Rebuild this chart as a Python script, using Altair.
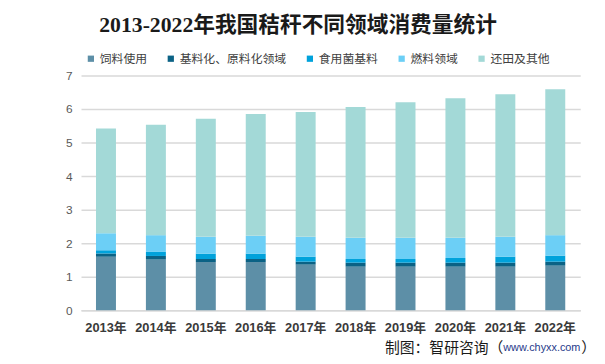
import altair as alt
import pandas as pd

years = ["2013年", "2014年", "2015年", "2016年", "2017年", "2018年", "2019年", "2020年", "2021年", "2022年"]
categories = ["饲料使用", "基料化、原料化领域", "食用菌基料", "燃料领域", "还田及其他"]
colors = ["#5D8FA7", "#0B6285", "#00A2DB", "#6CCFF6", "#A3D9D7"]

feed = [1.60, 1.51, 1.44, 1.44, 1.36, 1.30, 1.30, 1.30, 1.30, 1.33]
material = [0.09, 0.11, 0.09, 0.09, 0.09, 0.12, 0.12, 0.12, 0.12, 0.12]
fungus = [0.10, 0.12, 0.16, 0.16, 0.15, 0.11, 0.11, 0.14, 0.18, 0.18]
fuel = [0.51, 0.50, 0.50, 0.53, 0.59, 0.63, 0.63, 0.60, 0.59, 0.61]
other = [3.12, 3.29, 3.52, 3.63, 3.72, 3.90, 4.04, 4.16, 4.25, 4.35]

series = [feed, material, fungus, fuel, other]
rows = []
for ci, (cat, vals) in enumerate(zip(categories, series)):
    for y, v in zip(years, vals):
        rows.append({"year": y, "cat": cat, "value": v, "idx": ci})
df = pd.DataFrame(rows)

sans = "Noto Sans CJK SC"
axis_font = "Liberation Sans, Noto Sans CJK SC"

bars = alt.Chart(df).mark_bar().encode(
    x=alt.X("year:N", sort=years, title=None,
            scale=alt.Scale(paddingInner=0.6, paddingOuter=0.3),
            axis=alt.Axis(labelAngle=0, ticks=False, domain=True, domainColor="#D9D9D9",
                          domainWidth=1.5, labelFont=axis_font, labelFontSize=13,
                          labelFontWeight="bold", labelColor="#3A3A3A", labelPadding=12)),
    y=alt.Y("value:Q", stack="zero", title=None,
            scale=alt.Scale(domain=[0, 7], nice=False),
            axis=alt.Axis(values=[0, 1, 2, 3, 4, 5, 6, 7], ticks=False, domain=False,
                          gridColor="#D9D9D9", gridWidth=1.5, labelFont=axis_font,
                          labelFontSize=12, labelColor="#595959", labelPadding=9)),
    color=alt.Color("cat:N", scale=alt.Scale(domain=categories, range=colors),
                    legend=alt.Legend(title=None, orient="none", direction="horizontal",
                                      legendX=4, legendY=-23, symbolType="square",
                                      symbolSize=40, symbolStrokeWidth=0,
                                      labelFont=sans, labelFontSize=12, labelColor="#404040",
                                      labelOffset=3, columnPadding=17, padding=0)),
    order=alt.Order("idx:Q", sort="ascending"),
)

title_df = pd.DataFrame({"t": ["2013-2022年我国秸秆不同领域消费量统计"]})
title = alt.Chart(title_df).mark_text(
    font="Liberation Serif, Noto Sans CJK SC", fontSize=22, fontWeight="bold",
    color="#1A1A1A", align="center", baseline="middle"
).encode(text="t:N", x=alt.value(220), y=alt.value(-51))

src1 = alt.Chart(pd.DataFrame({"t": ["制图：智研咨询（"]})).mark_text(
    font=sans, fontSize=15, color="#1A1A1A", align="right", baseline="middle"
).encode(text="t:N", x=alt.value(428), y=alt.value(276))
src2 = alt.Chart(pd.DataFrame({"t": ["www.chyxx.com"]})).mark_text(
    font="Liberation Sans", fontSize=11, color="#1F3A8A", align="left", baseline="middle"
).encode(text="t:N", x=alt.value(428), y=alt.value(276))
src3 = alt.Chart(pd.DataFrame({"t": ["）"]})).mark_text(
    font=sans, fontSize=15, color="#1A1A1A", align="left", baseline="middle"
).encode(text="t:N", x=alt.value(507), y=alt.value(276))

chart = alt.layer(bars, title, src1, src2, src3).properties(
    width=506, height=238,
    autosize=alt.AutoSizeParams(type="none"),
    padding={"left": 74, "top": 66, "right": 17, "bottom": 50},
    background="white",
).configure_view(stroke=None)

chart.save("out.html", embed_options={"renderer": "svg", "actions": False})
